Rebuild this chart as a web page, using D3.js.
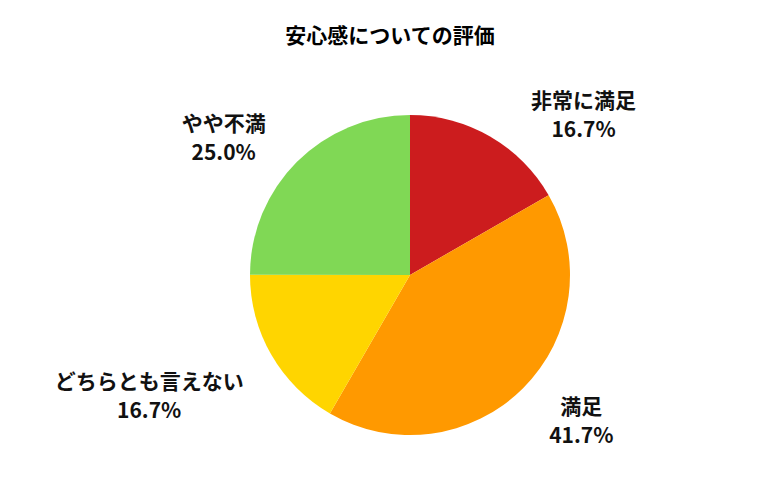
<!DOCTYPE html>
<html><head><meta charset="utf-8">
<script src="https://cdn.jsdelivr.net/npm/d3@7"></script>
<style>body{margin:0;background:#fff}</style></head>
<body><svg id="c" width="780" height="500"></svg>
<script>
const categories=["非常に満足","満足","どちらとも言えない","やや不満"];
const values=[16.7,41.7,16.7,25.0];
const colors=["#CC1C1E","#FF9900","#FFD500","#80D855"];
const svg=d3.select("#c"),cx=410,cy=275,r=160;
const font="'Noto Sans CJK JP','Noto Sans',sans-serif";
svg.append("text").attr("x",390).attr("y",43).attr("text-anchor","middle")
 .attr("font-family",font).attr("font-weight","bold").attr("font-size",21).text("安心感についての評価");
const pie=d3.pie().sort(null).value(d=>d)(values);
const arc=d3.arc().innerRadius(0).outerRadius(r);
const g=svg.append("g").attr("transform",`translate(${cx},${cy})`);
g.selectAll("path").data(pie).join("path").attr("d",arc).attr("fill",(d,i)=>colors[i]);
const la=d3.arc().innerRadius(200).outerRadius(200);
const nudge=[[11,12],[0,3],[35,20],[10,4]];
pie.forEach((d,i)=>{
 const [x,y]=la.centroid(d);const right=x>0;
 const w=[105,40,225,90][i];
 const t=g.append("text").attr("font-family",font).attr("font-weight","bold").attr("font-size",21)
  .attr("text-anchor","middle").attr("fill","#111");
 const lx=x+(right?1:-1)*(10+w/2)+nudge[i][0], ly=y+nudge[i][1];
 t.append("tspan").attr("x",lx).attr("y",ly-6).text(categories[i]);
 t.append("tspan").attr("x",lx).attr("y",ly+23).text(values[i].toFixed(1)+"%");
});
</script></body></html>
